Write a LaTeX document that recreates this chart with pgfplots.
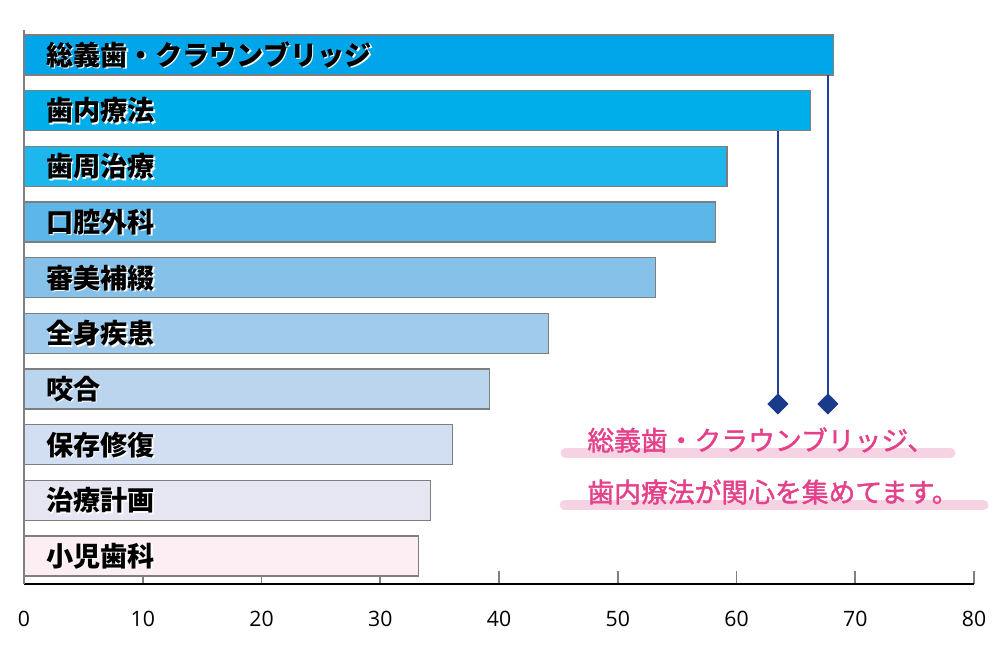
\documentclass[border=0pt]{standalone}
\usepackage{pgfplots}
\pgfplotsset{compat=1.18}
\usepackage{fontspec}
\setmainfont{Open Sans}
\newfontfamily\cjk{Noto Sans CJK JP}
\newfontfamily\cjkm{Noto Sans CJK JP}[FakeBold=1.6]
\definecolor{c1}{HTML}{00A6E9}
\definecolor{c2}{HTML}{00AFEA}
\definecolor{c3}{HTML}{1DB7ED}
\definecolor{c4}{HTML}{5DB6E8}
\definecolor{c5}{HTML}{86C1EA}
\definecolor{c6}{HTML}{A0CBEC}
\definecolor{c7}{HTML}{BBD5EF}
\definecolor{c8}{HTML}{D2DEF1}
\definecolor{c9}{HTML}{E6E5F2}
\definecolor{c10}{HTML}{FCEEF3}
\definecolor{bordergray}{HTML}{7E7E7E}
\definecolor{lineblue}{HTML}{2040A0}
\definecolor{navy}{HTML}{1A3A8A}
\definecolor{pinktext}{HTML}{E4418A}
\definecolor{pinklight}{HTML}{F6D3E2}
\pgfplotsset{mybar/.style={xbar, bar width=20pt, bar shift=0pt, fill=#1, draw=bordergray, line width=0.6pt}}
\begin{document}
\begin{tikzpicture}
\begin{axis}[
  scale only axis, width=475pt, height=277pt,
  xmin=0, xmax=80, ymin=0.497, ymax=10.449,
  axis x line=bottom, axis y line=left,
  axis line style={-},
  x axis line style={black, line width=0.7pt},
  y axis line style={gray, line width=0.8pt},
  xtick={0,10,...,80}, ytick=\empty,
  tick align=inside, major tick length=6.5pt,
  xtick style={gray, line width=0.8pt},
  xticklabel style={font=\fontsize{10.6}{12}\selectfont, yshift=-10pt},
  /pgf/number format/assume math mode=true,
  clip=false,
]
\path (axis cs:-2.021,-0.957) rectangle (axis cs:82.19,10.988);
\addplot[mybar=c1] coordinates {(68.2,10)};
\addplot[mybar=c2] coordinates {(66.2,9)};
\addplot[mybar=c3] coordinates {(59.2,8)};
\addplot[mybar=c4] coordinates {(58.2,7)};
\addplot[mybar=c5] coordinates {(53.2,6)};
\addplot[mybar=c6] coordinates {(44.2,5)};
\addplot[mybar=c7] coordinates {(39.2,4)};
\addplot[mybar=c8] coordinates {(36.1,3)};
\addplot[mybar=c9] coordinates {(34.2,2)};
\addplot[mybar=c10] coordinates {(33.2,1)};
% connector lines and diamonds
\addplot[color=lineblue, line width=1pt, mark=none] coordinates {(67.70,9.641) (67.70,3.731)};
\addplot[color=lineblue, line width=1pt, mark=none] coordinates {(63.49,8.635) (63.49,3.731)};
\addplot[only marks, mark=diamond*, mark size=5pt, mark options={fill=navy, draw=navy, xscale=1.33}] coordinates {(67.70,3.731) (63.49,3.731)};
% highlights
\addplot[color=pinklight, line width=5pt, line cap=round, mark=none] coordinates {(45.60,2.851) (78.02,2.851)};
\addplot[color=pinklight, line width=5pt, line cap=round, mark=none] coordinates {(45.52,1.917) (80.80,1.917)};
% annotation text
\node[anchor=west, inner sep=0pt, text=pinktext, font=\cjkm\fontsize{13.4}{14}\selectfont] at (axis cs:47.41,3.084) {総義歯・クラウンブリッジ、};
\node[anchor=west, inner sep=0pt, text=pinktext, font=\cjkm\fontsize{13.4}{14}\selectfont] at (axis cs:47.41,2.150) {歯内療法が関心を集めてます。};
% bar labels with white shadow
\foreach \lab/\yy in {総義歯・クラウンブリッジ/10, 歯内療法/9, 歯周治療/8, 口腔外科/7, 審美補綴/6, 全身疾患/5, 咬合/4, 保存修復/3, 治療計画/2, 小児歯科/1}{
  \edef\temp{\noexpand\node[anchor=west, inner sep=0pt, text=white, font=\noexpand\cjk\noexpand\bfseries\noexpand\fontsize{13.6}{14}\noexpand\selectfont, xshift=0.7pt, yshift=-0.7pt] at (axis cs:1.85,\yy) {\lab};
  \noexpand\node[anchor=west, inner sep=0pt, text=black, font=\noexpand\cjk\noexpand\bfseries\noexpand\fontsize{13.6}{14}\noexpand\selectfont] at (axis cs:1.85,\yy) {\lab};}
  \temp
}
\end{axis}
\end{tikzpicture}
\end{document}
